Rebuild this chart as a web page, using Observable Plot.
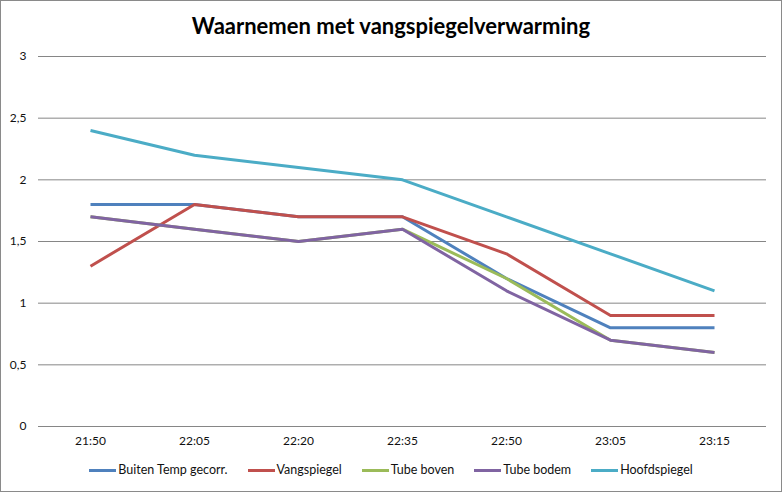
<!DOCTYPE html>
<html>
<head>
<meta charset="utf-8">
<script src="https://cdn.jsdelivr.net/npm/d3@7"></script>
<script src="https://cdn.jsdelivr.net/npm/@observablehq/plot@0.6"></script>
<style>
  html, body { margin: 0; padding: 0; background: #fff; }
  #wrap { position: relative; width: 782px; height: 492px; overflow: hidden; font-family: Lato, "Open Sans", sans-serif; background: #fff; }
  #border { position: absolute; left: 0; top: 0; width: 782px; height: 492px; box-sizing: border-box; border: 1px solid #8a8a8a; pointer-events: none; }
  #title { position: absolute; left: 0; top: 12px; width: 782px; text-align: center; font-weight: bold; font-size: 22px; color: #000; line-height: 28px; }
  #chart { position: absolute; left: 0; top: 44px; }
  #legend { position: absolute; left: 0; top: 461px; width: 782px; display: flex; justify-content: center; align-items: center; font-size: 12.5px; color: #111; line-height: 18px; }
  .item { display: flex; align-items: center; margin: 0 10px; }
  .sw { display: inline-block; width: 27px; height: 3px; margin-right: 2px; }
</style>
</head>
<body>
<div id="wrap">
  <div id="title">Waarnemen met vangspiegelverwarming</div>
  <div id="chart"></div>
  <div id="legend"></div>
  <div id="border"></div>
</div>
<script>
const times = ["21:50", "22:05", "22:20", "22:35", "22:50", "23:05", "23:15"];
const seriesNames = ["Buiten Temp gecorr.", "Vangspiegel", "Tube boven", "Tube bodem", "Hoofdspiegel"];
const seriesColors = ["#4F81BD", "#C0504D", "#9BBB59", "#8064A2", "#4BACC6"];
const buitenTemp = [1.8, 1.8, 1.7, 1.7, 1.2, 0.8, 0.8];
const vangspiegel = [1.3, 1.8, 1.7, 1.7, 1.4, 0.9, 0.9];
const tubeBoven = [1.7, 1.6, 1.5, 1.6, 1.2, 0.7, 0.6];
const tubeBodem = [1.7, 1.6, 1.5, 1.6, 1.1, 0.7, 0.6];
const hoofdspiegel = [2.4, 2.2, 2.1, 2.0, 1.7, 1.4, 1.1];
const yTicks = [0, 0.5, 1, 1.5, 2, 2.5, 3];

const allSeries = [buitenTemp, vangspiegel, tubeBoven, tubeBodem, hoofdspiegel];
const data = [];
allSeries.forEach((vals, s) => vals.forEach((v, i) => data.push({series: seriesNames[s], time: times[i], value: v})));

const chart = Plot.plot({
  width: 782,
  height: 410,
  marginLeft: 38,
  marginRight: 16,
  marginTop: 12,
  marginBottom: 28,
  style: {fontFamily: "Lato, 'Open Sans', sans-serif", fontSize: "12px", color: "#111", background: "transparent"},
  x: {type: "point", domain: times, padding: 0.5, label: null},
  y: {domain: [0, 3], label: null},
  color: {domain: seriesNames, range: seriesColors},
  marks: [
    Plot.gridY(yTicks, {stroke: "#868686", strokeOpacity: 1, strokeWidth: 1}),
    Plot.axisY(yTicks, {tickSize: 0, tickPadding: 12, label: null, tickFormat: d => String(d).replace(".", ",")}),
    Plot.axisX({tickSize: 0, tickPadding: 10, label: null}),
    Plot.line(data, {x: "time", y: "value", z: "series", stroke: "series", strokeWidth: 3, strokeLinejoin: "round", strokeLinecap: "butt"})
  ]
});
document.getElementById("chart").appendChild(chart);

const legend = document.getElementById("legend");
seriesNames.forEach((n, i) => {
  const it = document.createElement("div");
  it.className = "item";
  const sw = document.createElement("span");
  sw.className = "sw";
  sw.style.background = seriesColors[i];
  const t = document.createElement("span");
  t.textContent = n;
  it.appendChild(sw);
  it.appendChild(t);
  legend.appendChild(it);
});
</script>
</body>
</html>
